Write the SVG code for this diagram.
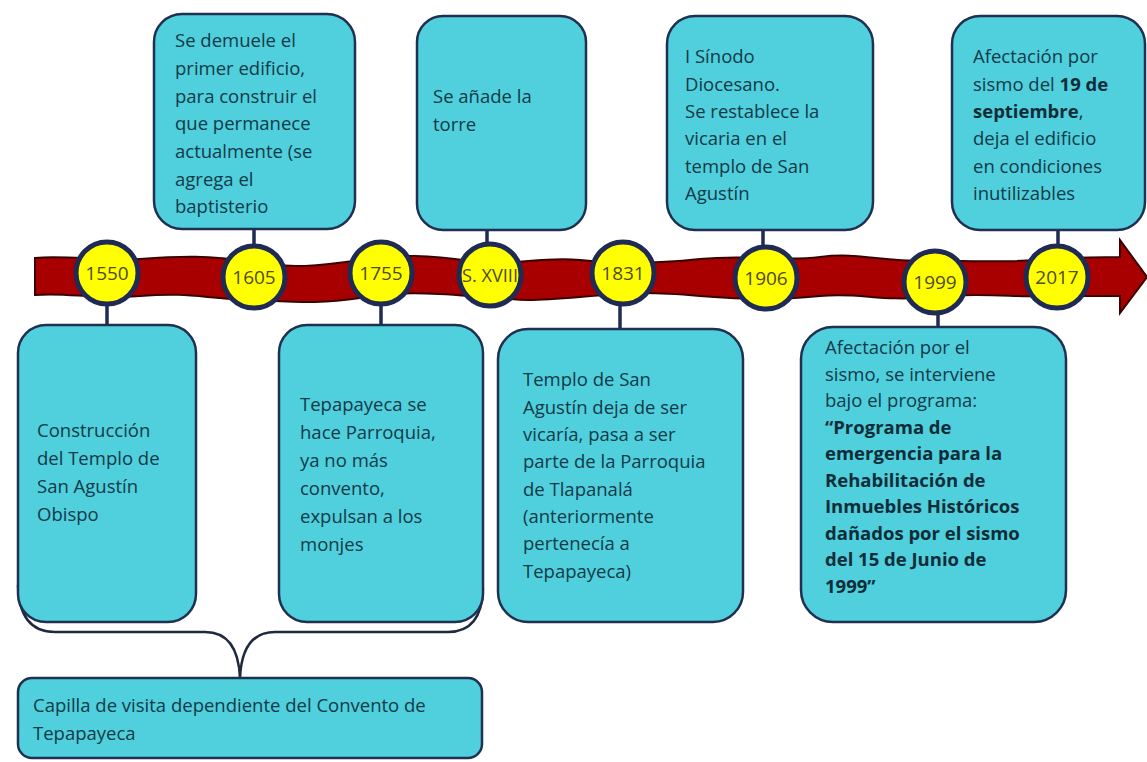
<svg xmlns="http://www.w3.org/2000/svg" width="1147" height="762" viewBox="0 0 1147 762">
<style>
.box{fill:#50cfdc;stroke:#1f3050;stroke-width:2.5}
.t{font-family:"Open Sans","Liberation Sans",sans-serif;font-size:18.5px;fill:#123a48}
.b{font-weight:bold;fill:#0f2d38}
.yr{fill:#ffff00;stroke:#1f2a55;stroke-width:5}
.yt{font-family:"Open Sans","Liberation Sans",sans-serif;font-size:19px;fill:#4f4b1c;text-anchor:middle}
.ln{stroke:#1f2a55;stroke-width:3.5;fill:none}
.brace{stroke:#1f2a40;stroke-width:2.5;fill:none}
</style>
<rect width="1147" height="762" fill="#ffffff"/>
<g id="timeline">
<path d="M35 258 C70 255 100 262 140 259 S210 255 250 262 S320 266 360 260 S430 255 470 261 S540 256 580 260 S650 264 700 259 S780 262 820 257 S880 262 930 261 S1000 264 1060 258 L1120 257 L1120 240 L1147 277 L1120 313 L1120 296 L1060 296 C1020 298 980 292 930 297 S860 292 820 296 S750 300 700 296 S640 292 580 297 S520 300 470 296 S400 292 360 298 S300 302 250 300 S190 292 140 296 S70 292 35 295 Z" fill="#a80000" stroke="#3a0000" stroke-width="2"/>
</g>
<g id="connectors">
<line class="ln" x1="107" y1="304" x2="107" y2="326"/>
<line class="ln" x1="254" y1="229" x2="254" y2="245"/>
<line class="ln" x1="381" y1="304" x2="381" y2="326"/>
<line class="ln" x1="487" y1="230" x2="487" y2="244"/>
<line class="ln" x1="620" y1="304" x2="620" y2="330"/>
<line class="ln" x1="763" y1="230" x2="763" y2="246"/>
<line class="ln" x1="938" y1="313" x2="938" y2="328"/>
<line class="ln" x1="1058" y1="230" x2="1058" y2="245"/>
<path class="brace" d="M18 585 Q19 632 55 632 L205 632 Q238 632 240 678 Q242 632 275 632 L448 632 Q482 632 483 588"/>
</g>
<g id="c1550"><circle class="yr" cx="107" cy="273" r="31"/><text class="yt" x="107" y="280">1550</text></g>
<g id="c1605"><circle class="yr" cx="254" cy="277" r="31"/><text class="yt" x="254" y="284">1605</text></g>
<g id="c1755"><circle class="yr" cx="381" cy="273" r="31"/><text class="yt" x="381" y="280">1755</text></g>
<g id="cXVIII"><circle class="yr" cx="490" cy="275" r="31"/><text class="yt" x="490" y="282" textLength="56" lengthAdjust="spacingAndGlyphs">S. XVIII</text></g>
<g id="c1831"><circle class="yr" cx="623" cy="273" r="31"/><text class="yt" x="623" y="280">1831</text></g>
<g id="c1906"><circle class="yr" cx="766" cy="278" r="31"/><text class="yt" x="766" y="285">1906</text></g>
<g id="c1999"><circle class="yr" cx="935" cy="282" r="31"/><text class="yt" x="935" y="289">1999</text></g>
<g id="c2017"><circle class="yr" cx="1057" cy="277" r="31"/><text class="yt" x="1057" y="284">2017</text></g>
<g id="n1605"><rect class="box" x="154" y="14" width="201" height="215" rx="28"/>
<text class="t"><tspan x="175" y="47">Se demuele el</tspan><tspan x="175" y="75">primer edificio,</tspan><tspan x="175" y="102.5">para construir el</tspan><tspan x="175" y="130">que permanece</tspan><tspan x="175" y="158">actualmente (se</tspan><tspan x="175" y="185.5">agrega el</tspan><tspan x="175" y="213">baptisterio</tspan></text></g>
<g id="nXVIII"><rect class="box" x="417" y="16" width="169" height="214" rx="26"/>
<text class="t"><tspan x="433" y="103">Se añade la</tspan><tspan x="433" y="131">torre</tspan></text></g>
<g id="n1906"><rect class="box" x="667" y="16" width="206" height="214" rx="28"/>
<text class="t"><tspan x="685" y="63">I Sínodo</tspan><tspan x="685" y="90.5">Diocesano.</tspan><tspan x="685" y="118">Se restablece la</tspan><tspan x="685" y="145">vicaria en el</tspan><tspan x="685" y="172.5">templo de San</tspan><tspan x="685" y="200">Agustín</tspan></text></g>
<g id="n2017"><rect class="box" x="952" y="16" width="193" height="214" rx="28"/>
<text class="t"><tspan x="973" y="63">Afectación por</tspan><tspan x="973" y="90.5">sismo del <tspan class="b">19 de</tspan></tspan><tspan x="973" y="118" class="b">septiembre</tspan><tspan>,</tspan><tspan x="973" y="145">deja el edificio</tspan><tspan x="973" y="172.5">en condiciones</tspan><tspan x="973" y="200">inutilizables</tspan></text></g>
<g id="n1550"><rect class="box" x="18" y="325" width="178" height="297" rx="28"/>
<text class="t"><tspan x="37" y="437">Construcción</tspan><tspan x="37" y="465">del Templo de</tspan><tspan x="37" y="493">San Agustín</tspan><tspan x="37" y="521">Obispo</tspan></text></g>
<g id="n1755"><rect class="box" x="279" y="325" width="204" height="297" rx="28"/>
<text class="t"><tspan x="300" y="411">Tepapayeca se</tspan><tspan x="300" y="439">hace Parroquia,</tspan><tspan x="300" y="467">ya no más</tspan><tspan x="300" y="495">convento,</tspan><tspan x="300" y="523">expulsan a los</tspan><tspan x="300" y="551">monjes</tspan></text></g>
<g id="n1831"><rect class="box" x="498" y="329" width="245" height="293" rx="30"/>
<text class="t"><tspan x="523" y="386">Templo de San</tspan><tspan x="523" y="413.5">Agustín deja de ser</tspan><tspan x="523" y="441">vicaría, pasa a ser</tspan><tspan x="523" y="468">parte de la Parroquia</tspan><tspan x="523" y="495.5">de Tlapanalá</tspan><tspan x="523" y="523">(anteriormente</tspan><tspan x="523" y="550">pertenecía a</tspan><tspan x="523" y="577.5">Tepapayeca)</tspan></text></g>
<g id="n1999"><rect class="box" x="801" y="327" width="265" height="295" rx="32"/>
<text class="t"><tspan x="825" y="354">Afectación por el</tspan><tspan x="825" y="380.5">sismo, se interviene</tspan><tspan x="825" y="407">bajo el programa:</tspan><tspan x="825" y="433.5" class="b">“Programa de</tspan><tspan x="825" y="460" class="b">emergencia para la</tspan><tspan x="825" y="486.5" class="b">Rehabilitación de</tspan><tspan x="825" y="513" class="b">Inmuebles Históricos</tspan><tspan x="825" y="539.5" class="b">dañados por el sismo</tspan><tspan x="825" y="566" class="b">del 15 de Junio de</tspan><tspan x="825" y="592.5" class="b">1999”</tspan></text></g>
<g id="nCapilla"><rect class="box" x="18" y="678" width="464" height="80" rx="14"/>
<text class="t"><tspan x="33" y="712">Capilla de visita dependiente del Convento de</tspan><tspan x="33" y="740">Tepapayeca</tspan></text></g>
</svg>
